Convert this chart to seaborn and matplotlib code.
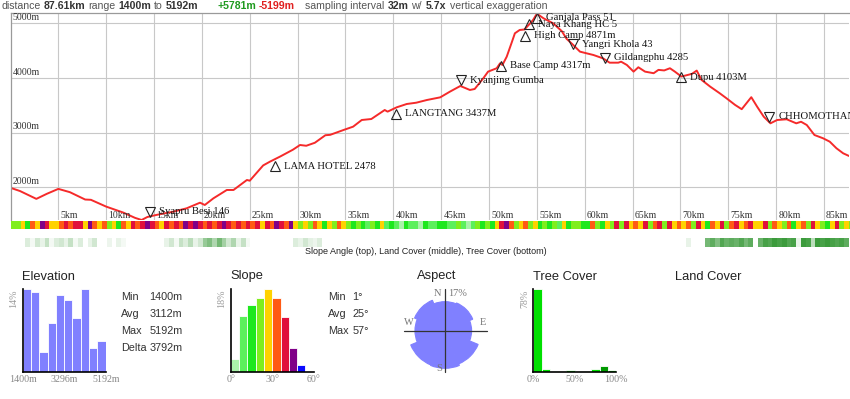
import numpy as np
import matplotlib
matplotlib.use("Agg")
import matplotlib.pyplot as plt
from matplotlib.colors import ListedColormap, BoundaryNorm, LinearSegmentedColormap
from matplotlib.transforms import offset_copy
import seaborn as sns

# ---- elevation profile (km, m) ----
profile_km = [0.0, 1.0, 2.7, 3.8, 5.0, 6.2, 7.8, 8.4, 10.0, 11.8,
              13.0, 13.7, 14.3, 15.3, 17.0, 18.4, 19.8, 20.3, 21.2, 22.6,
              23.3, 24.7, 25.0, 26.4, 27.1, 28.2, 29.5, 30.25, 30.9, 31.8,
              32.9, 33.4, 34.8, 35.8, 36.7, 37.7, 39.1, 39.4, 40.35, 41.4,
              42.4, 43.5, 44.9, 45.9, 47.0, 48.0, 48.5, 49.4, 49.9, 50.8,
              51.15, 51.4, 51.85, 52.4, 52.7, 53.2, 53.7, 54.3, 54.6, 55.0,
              55.7, 56.7, 57.6, 58.1, 58.8, 59.5, 60.2, 60.9, 61.9, 62.6,
              63.5, 63.8, 64.4, 65.1, 65.6, 66.3, 67.2, 67.7, 68.3, 68.9,
              69.4, 70.1, 71.2, 71.7, 72.2, 73.1, 74.1, 74.8, 75.7, 76.4,
              76.9, 77.4, 78.0, 78.7, 79.4, 80.1, 81.1, 82.1, 82.6, 83.2,
              84.0, 84.9, 85.6, 86.3, 87.0, 87.61]
profile_elev = [1990, 1930, 1787, 1880, 1970, 1910, 1775, 1770, 1645, 1535,
                1440, 1400, 1455, 1495, 1552, 1614, 1717, 1675, 1797, 1950,
                1950, 2133, 2120, 2400, 2468, 2565, 2687, 2774, 2760, 2815,
                2953, 2960, 3049, 3110, 3232, 3250, 3415, 3385, 3464, 3525,
                3549, 3598, 3647, 3750, 3855, 3782, 3800, 3996, 4118, 4180,
                4270, 4240, 4393, 4667, 4820, 4881, 4890, 5003, 5064, 5180,
                5094, 5003, 4860, 4720, 4606, 4484, 4453, 4423, 4362, 4282,
                4282, 4300, 4240, 4118, 4198, 4118, 4089, 4150, 4140, 4180,
                4120, 4028, 4077, 4137, 3967, 3844, 3722, 3631, 3509, 3430,
                3540, 3650, 3479, 3293, 3171, 3232, 3245, 3171, 3200, 3140,
                2957, 2897, 2835, 2714, 2622, 2573]

# ---- waypoints ----
wp_names = ["Syapru Besi 146", "LAMA HOTEL 2478", "LANGTANG 3437M", "Kyanjing Gumba",
            "Base Camp 4317m", "High Camp 4871m", "Naya Khang HC 5", "Ganjala Pass 51",
            "Yangri Khola 43", "Gildangphu 4285", "Dupu 4103M", "CHHOMOTHANG"]
wp_km = [14.6, 27.6, 40.3, 47.1, 51.25, 53.8, 54.2, 55.0, 58.8, 62.1, 70.1, 79.3]
wp_elev = [1460, 2478, 3437, 3870, 4317, 4871, 5080, 5192, 4530, 4285, 4103, 3200]
wp_up = [False, True, True, False, True, True, True, True, False, False, True, False]

# ---- strips, one value every 0.5 km ----
strip_step = 0.5
slope_strip = [22, 18, 26, 14, 30, 27, 44, 36, 28, 24,
               33, 38, 30, 41, 36, 28, 44, 32, 26, 35,
               20, 27, 16, 31, 24, 38, 34, 40, 45, 37,
               33, 29, 38, 35, 40, 31, 42, 36, 44, 39,
               35, 41, 33, 38, 43, 36, 30, 39, 34, 37,
               31, 36, 28, 40, 34, 45, 38, 33, 42, 29,
               22, 26, 18, 30, 24, 16, 28, 21, 32, 25,
               18, 12, 22, 15, 9, 20, 14, 26, 11, 17,
               8, 5, 13, 7, 10, 4, 16, 9, 6, 12,
               14, 7, 10, 19, 8, 5, 11, 22, 15, 18,
               16, 24, 38, 46, 31, 20, 28, 35, 19, 27,
               12, 20, 15, 23, 10, 26, 14, 18, 21, 13,
               17, 33, 21, 13, 25, 19, 36, 22, 40, 24,
               34, 27, 38, 23, 31, 36, 19, 41, 26, 30,
               28, 35, 22, 38, 27, 14, 33, 25, 39, 21,
               30, 37, 26, 34, 41, 24, 29, 36, 18, 32,
               25, 20, 31, 16, 28, 35, 22, 39, 27, 19,
               15, 26, 38, 21, 24, 18]
tree_strip = ([0, 0, 0, 15, 5, 20, 10, 25, 5, 15,
               20, 10, 25, 5, 15, 0, 10, 20, 0, 0,
               8, 0, 10, 5, 0, 0, 0, 0, 0, 0,
               0, 0, 10, 20, 5, 25, 15, 30, 10, 20,
               45, 55, 35, 60, 40, 20, 35, 10, 25, 5,
               0, 0, 0, 0, 0, 0, 0, 0, 0, 15,
               10, 20, 12, 8, 15, 0, 0, 0, 0, 0]
              + [0] * 70
              + [0, 10, 0, 0, 0, 60, 70, 55, 75, 65,
                 70, 65, 75, 60, 70, 0, 65, 80, 75, 85,
                 80, 85, 75, 80, 10, 85, 80, 30, 85, 80,
                 85, 80, 75, 80, 70, 0])

# ---- summary histograms ----
elev_hist = [14.0, 13.6, 3.4, 8.3, 13.0, 12.1, 9.1, 14.0, 4.1, 5.3]
elev_ticks = ["1400m", "3296m", "5192m"]
slope_hist = [2.8, 12.2, 14.6, 16.0, 18.0, 16.2, 12.0, 5.2, 1.4]
slope_colors = ["#aaf2aa", "#5cf05c", "#1ee81e", "#80ee1e", "#ffd200",
                "#ff5a14", "#e0103c", "#800088", "#0a0aff"]
slope_ticks = ["0°", "30°", "60°"]
tree_hist = [78.0, 2.5, 1.0, 0.6, 1.6, 1.0, 1.0, 2.2, 5.4, 1.6]
tree_colors = ["#00e000", "#00e000", "#00e000", "#00e000", "#00e000",
               "#00e000", "#00e000", "#00e000", "#009a00", "#00e000"]
tree_ticks = ["0%", "50%", "100%"]
aspect_dirs = [0, 45, 90, 135, 180, 225, 270, 315]
aspect_pct = [11.9, 12.3, 10.9, 14.7, 15.4, 15.2, 12.3, 13.5]

SERIF = "Liberation Serif"
SANS = "Liberation Sans"
W, H = 850, 399

sns.set_style("white")
plt.rcParams["font.family"] = [SANS, "DejaVu Sans"]


def box(x0, y0, x1, y1):
    return [x0 / W, 1 - y1 / H, (x1 - x0) / W, (y1 - y0) / H]


fig = plt.figure(figsize=(W / 100, H / 100), dpi=100)
renderer = fig.canvas.get_renderer()

# ---- header line, pieces laid out one after the other ----
header = [("distance", "normal", "#555555", 1),
          ("87.61km", "bold", "#333333", 3.5),
          ("range", "normal", "#555555", 3),
          ("1400m", "bold", "#333333", 3),
          ("to", "normal", "#555555", 3),
          ("5192m", "bold", "#333333", 3),
          ("+5781m", "bold", "#1e9a1e", 19),
          ("-5199m", "bold", "#e02020", 2),
          ("sampling interval", "normal", "#555555", 11),
          ("32m", "bold", "#333333", 3),
          ("w/", "normal", "#555555", 3),
          ("5.7x", "bold", "#333333", 3.5),
          ("vertical exaggeration", "normal", "#555555", 4)]
x = 0
for txt, wt, col, gap in header:
    x += gap
    t = fig.text(x / W, 1 - 6 / H, txt, fontsize=7.6, fontweight=wt, color=col,
                 ha="left", va="center", family=SANS)
    x += t.get_window_extent(renderer=renderer).width

# ---- profile ----
ax = fig.add_axes(box(10.5, 13, 849, 220))
sns.lineplot(x=profile_km, y=profile_elev, ax=ax, color="#f52a2a", linewidth=1.4)
ax.set_xlim(0, 87.61)
ax.set_ylim(1400, 5192)
ax.set_xticks(range(5, 90, 5))
ax.set_yticks([2000, 3000, 4000, 5000])
ax.grid(True, color="#c8c8c8", linewidth=0.8)
ax.tick_params(length=0, labelbottom=False, labelleft=False)
ax.set_xlabel("")
ax.set_ylabel("")
for s in ["right", "bottom"]:
    ax.spines[s].set_visible(False)
for s in ["left", "top"]:
    ax.spines[s].set_color("#9a9a9a")
    ax.spines[s].set_linewidth(0.9)

for e in [2000, 3000, 4000, 5000]:
    ax.annotate(f"{e}m", xy=(0, e), xycoords=("axes fraction", "data"),
                xytext=(1.5, 1), textcoords="offset points", ha="left", va="bottom",
                fontsize=7, family=SERIF, color="#333333")
for k in range(5, 90, 5):
    ax.annotate(f"{k}km", xy=(k, 0), xycoords=("data", "axes fraction"),
                xytext=(1.5, 0.3), textcoords="offset points", ha="left", va="bottom",
                fontsize=7, family=SERIF, color="#333333")

for name, k, e, up in zip(wp_names, wp_km, wp_elev, wp_up):
    dy = -3.6 if up else 3.6
    tr = offset_copy(ax.transData, fig=fig, y=dy, units="points")
    ax.plot([k], [e], marker="^" if up else "v", ms=6.5, mfc="none", mec="#222222",
            mew=0.8, linestyle="none", transform=tr, clip_on=False)
    t = ax.annotate(name, xy=(k, e), xytext=(6.5, dy), textcoords="offset points",
                    ha="left", va="center", fontsize=7.7, family=SERIF, color="#151515")
    t.set_clip_on(True)

# ---- strips ----
n = len(slope_strip)
slope_cmap = ListedColormap(slope_colors)
slope_norm = BoundaryNorm(np.arange(0, 60, 6), slope_cmap.N)
axs = fig.add_axes(box(10.5, 220.5, 849, 229.5))
axs.imshow(np.array(slope_strip)[None, :], cmap=slope_cmap, norm=slope_norm, aspect="auto",
           extent=[0, n * strip_step, 0, 1], interpolation="nearest")
axs.set_xlim(0, 87.61)
axs.axis("off")

tree_cmap = LinearSegmentedColormap.from_list("tree", ["#ffffff", "#1a8a1a"])
axt = fig.add_axes(box(10.5, 238, 849, 246.5))
axt.imshow(np.array(tree_strip)[None, :], cmap=tree_cmap, vmin=0, vmax=100, aspect="auto",
           extent=[0, len(tree_strip) * strip_step, 0, 1], interpolation="nearest")
axt.set_xlim(0, 87.61)
axt.axis("off")

fig.text(426 / W, 1 - 251.5 / H, "Slope Angle (top), Land Cover (middle), Tree Cover (bottom)",
         ha="center", va="center", fontsize=6.5, color="#222222", family=SANS)


# ---- histograms ----
def hist_axes(x0, values, colors, ymax, ylab, ticks, nslots):
    a = fig.add_axes(box(x0, 289.3, x0 + 83, 371.7))
    idx = list(range(len(values)))
    sns.barplot(x=idx, y=values, hue=idx, palette=colors, ax=a, width=1.0,
                saturation=1, edgecolor="white", linewidth=0.6, legend=False)
    a.set_xlim(-0.5, nslots - 0.5)
    a.set_ylim(0, ymax)
    a.set_yticks([])
    a.set_xticks([-0.5, (nslots - 1) / 2, nslots - 0.5])
    a.set_xticklabels(ticks, fontsize=7.2, family=SERIF, color="#888888")
    a.tick_params(axis="x", length=0, pad=2.5)
    a.set_xlabel("")
    a.set_ylabel("")
    for s in ["top", "right"]:
        a.spines[s].set_visible(False)
    for s in ["left", "bottom"]:
        a.spines[s].set_color("black")
        a.spines[s].set_linewidth(1.2)
    a.text(-0.105, 1.0, ylab, transform=a.transAxes, rotation=90, ha="center", va="top",
           fontsize=7.2, family=SERIF, color="#999999")
    return a


hist_axes(22.7, elev_hist, ["#8080ff"] * len(elev_hist), 14, "14%", elev_ticks, 10)
hist_axes(230.7, slope_hist, slope_colors, 18, "18%", slope_ticks, 10)
hist_axes(533.3, tree_hist, tree_colors, 78, "78%", tree_ticks, 10)

# titles
for label, x in [("Elevation", 22.3), ("Slope", 230.7), ("Aspect", 416.7),
                 ("Tree Cover", 533.3), ("Land Cover", 675)]:
    fig.text(x / W, 1 - 276.5 / H, label, fontsize=9.3, color="#222222",
             ha="left", va="center", family=SANS)

# stats
elev_stats = [("Min", "1400m"), ("Avg", "3112m"), ("Max", "5192m"), ("Delta", "3792m")]
slope_stats = [("Min", "1°"), ("Avg", "25°"), ("Max", "57°")]
for i, (lab, val) in enumerate(elev_stats):
    y = 1 - (297 + 17 * i) / H
    fig.text(120.7 / W, y, lab, fontsize=7.8, color="#333333", va="center", family=SANS)
    fig.text(149.3 / W, y, val, fontsize=7.8, color="#333333", va="center", family=SANS)
for i, (lab, val) in enumerate(slope_stats):
    y = 1 - (297 + 17 * i) / H
    fig.text(328.3 / W, y, lab, fontsize=7.8, color="#333333", va="center", family=SANS)
    fig.text(352.5 / W, y, val, fontsize=7.8, color="#333333", va="center", family=SANS)

# ---- aspect rose ----
axa = fig.add_axes(box(403.5, 289.2, 486.5, 372.2), projection="polar")
axa.bar(np.deg2rad(aspect_dirs), aspect_pct, width=np.deg2rad(45), color="#8080ff",
        edgecolor="#8080ff", linewidth=0.8, align="center")
axa.set_theta_zero_location("N")
axa.set_theta_direction(-1)
axa.set_ylim(0, 17)
axa.axis("off")
axa.plot([0, 1], [0.5, 0.5], transform=axa.transAxes, color="#333333", lw=0.9, clip_on=False)
axa.plot([0.5, 0.5], [0, 1], transform=axa.transAxes, color="#333333", lw=0.9, clip_on=False)
for txt, x, y, ha in [("N", 0.455, 0.95, "right"), ("17%", 0.54, 0.95, "left"),
                      ("W", 0.064, 0.593, "center"), ("E", 0.961, 0.593, "center"),
                      ("S", 0.424, 0.047, "center")]:
    axa.text(x, y, txt, transform=axa.transAxes, ha=ha, va="center", fontsize=7.5,
             family=SERIF, color="#777777")

fig.savefig("out.png", dpi=100)
